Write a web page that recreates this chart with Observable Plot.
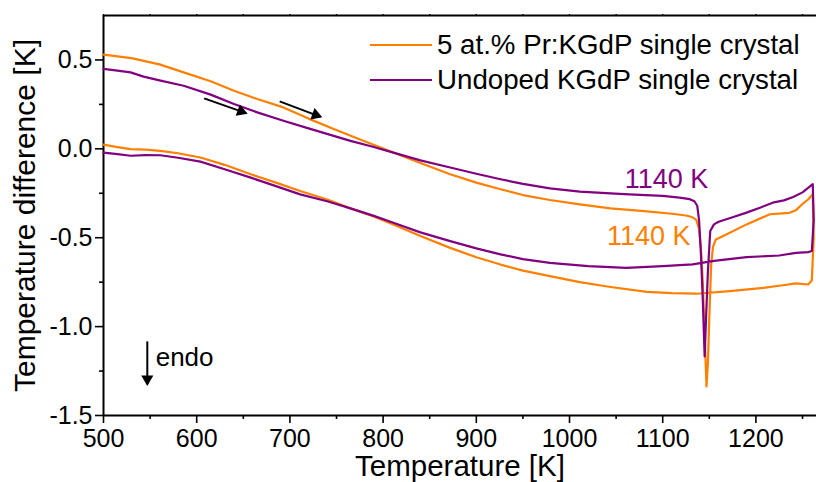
<!DOCTYPE html>
<html>
<head>
<meta charset="utf-8">
<script src="https://cdn.jsdelivr.net/npm/d3@7"></script>
<script src="https://cdn.jsdelivr.net/npm/@observablehq/plot@0.6"></script>
<style>
  html, body { margin: 0; padding: 0; background: #fff; }
  #wrap { position: relative; width: 816px; height: 482px; font-family: "Liberation Sans", Arial, sans-serif; }
  .leg { position: absolute; left: 370px; display: flex; align-items: center; font-size: 27.7px; color: #000; white-space: nowrap; }
  .leg .sw { width: 62px; height: 0; border-top: 2px solid; margin-right: 5px; }
</style>
</head>
<body>
<div id="wrap"></div>
<script>
// Series names and colours
const seriesNames = ["5 at.% Pr:KGdP single crystal", "Undoped KGdP single crystal"];
const seriesColors = ["#ff7f00", "#800080"];

// 5 at.% Pr:KGdP — heating then cooling loop (T in K, ΔT in K)
const prT = [500,530,560,586,615,640,665,693,720,747,776,811,840,872,900,926,950,979,1011,1044,1080,1110,1125,1132,1136,1139,1141,1143,1145,1147,1148.5,1150,1152,1154,1157,1165,1190,1215,1228,1236,1243,1250,1256,1261,1262,1260,1256,1243,1225,1208,1172,1136,1110,1083,1044,1011,979,950,926,900,872,840,811,790,765,740,711,685,658,630,604,580,561,545,529,515,500];
const prDT = [0.53,0.51,0.475,0.43,0.38,0.327,0.28,0.233,0.17,0.111,0.051,-0.021,-0.08,-0.143,-0.19,-0.227,-0.26,-0.288,-0.312,-0.335,-0.35,-0.365,-0.375,-0.385,-0.40,-0.45,-0.56,-0.75,-1.05,-1.337,-1.2,-0.95,-0.65,-0.55,-0.51,-0.49,-0.425,-0.368,-0.363,-0.36,-0.345,-0.31,-0.285,-0.256,-0.5,-0.74,-0.763,-0.757,-0.77,-0.782,-0.80,-0.815,-0.812,-0.805,-0.777,-0.75,-0.716,-0.685,-0.651,-0.61,-0.557,-0.49,-0.425,-0.38,-0.335,-0.285,-0.237,-0.19,-0.143,-0.09,-0.049,-0.025,-0.011,-0.005,-0.002,0.01,0.024];

// Undoped KGdP — heating then cooling loop
const unT = [500,515,529,543,560,586,615,640,665,693,720,747,765,790,811,840,872,900,926,950,979,1011,1044,1064,1100,1118,1129,1134,1137,1139,1141,1143,1145,1146.5,1148.5,1151,1155,1160,1175,1190,1205,1218,1230,1240,1250,1261,1262,1260,1256,1243,1225,1190,1155,1132,1100,1061,1020,979,950,926,900,872,840,811,790,765,740,711,685,658,630,604,580,561,545,529,515,500];
const unDT = [0.45,0.44,0.43,0.406,0.385,0.355,0.305,0.252,0.205,0.158,0.115,0.073,0.045,0.01,-0.021,-0.065,-0.105,-0.14,-0.171,-0.197,-0.222,-0.241,-0.25,-0.256,-0.265,-0.274,-0.283,-0.295,-0.32,-0.40,-0.594,-0.85,-1.168,-0.95,-0.688,-0.462,-0.425,-0.41,-0.385,-0.359,-0.33,-0.303,-0.29,-0.271,-0.245,-0.199,-0.4,-0.575,-0.581,-0.585,-0.6,-0.609,-0.63,-0.65,-0.66,-0.67,-0.66,-0.641,-0.62,-0.594,-0.56,-0.519,-0.47,-0.416,-0.377,-0.335,-0.295,-0.256,-0.21,-0.162,-0.115,-0.072,-0.05,-0.036,-0.035,-0.039,-0.03,-0.021];

// Axes
const xDomain = [500, 1265];
const yDomain = [-1.5, 0.75];
const xMajor = [500,600,700,800,900,1000,1100,1200];
const xMinor = [550,650,750,850,950,1050,1150,1250];
const yMajor = [-1.5,-1.0,-0.5,0.0,0.5];
const yMinor = [-1.25,-0.75,-0.25,0.25];
const xLabel = "Temperature [K]";
const yLabel = "Temperature difference [K]";

// Annotations
const peakLabels = [
  {x: 1104, y: -0.169, text: "1140 K", color: seriesColors[1]},
  {x: 1085, y: -0.491, text: "1140 K", color: seriesColors[0]}
];
const dirArrows = [
  {x1: 608, y1: 0.284, x2: 653, y2: 0.201, rot: 110},
  {x1: 689, y1: 0.267, x2: 733, y2: 0.180, rot: 110},
  {x1: 547, y1: -1.083, x2: 547, y2: -1.324, rot: 180}
];
const endoLabel = [{x: 556, y: -1.177, text: "endo"}];

const rows = [];
prT.forEach((t, i) => rows.push({series: seriesNames[0], T: t, dT: prDT[i]}));
unT.forEach((t, i) => rows.push({series: seriesNames[1], T: t, dT: unDT[i]}));

// arrow heads placed slightly back from tip
const heads = dirArrows.map(a => ({x: a.x2 - 0.12*(a.x2 - a.x1), y: a.y2 - 0.12*(a.y2 - a.y1), rot: a.rot}));

const chart = Plot.plot({
  width: 816,
  height: 482,
  marginLeft: 103,
  marginRight: 0,
  marginTop: 15,
  marginBottom: 67,
  style: {fontFamily: "Liberation Sans, Arial, sans-serif", background: "#fff", color: "#000"},
  x: {domain: xDomain, axis: null},
  y: {domain: yDomain, axis: null},
  color: {domain: seriesNames, range: seriesColors},
  marks: [
    Plot.axisX({ticks: xMajor, tickSize: 8, tickPadding: 6, fontSize: 25, strokeWidth: 1.6, tickFormat: d => String(d), label: null}),
    Plot.axisX({ticks: xMinor, tickSize: 4, strokeWidth: 1.6, tickFormat: () => "", label: null}),
    Plot.axisX({anchor: "top", ticks: xMajor.concat(xMinor), tickSize: 2, strokeWidth: 1.4, tickFormat: () => "", label: null}),
    Plot.axisY({ticks: yMajor, tickSize: 8, tickPadding: 3, fontSize: 25, strokeWidth: 1.6, tickFormat: d => d.toFixed(1), label: null}),
    Plot.axisY({ticks: yMinor, tickSize: 4, strokeWidth: 1.6, tickFormat: () => "", label: null}),
    Plot.ruleY([yDomain[0]], {strokeWidth: 2}),
    Plot.ruleY([yDomain[1]], {strokeWidth: 2}),
    Plot.ruleX([xDomain[0]], {strokeWidth: 2}),
    Plot.line(rows, {x: "T", y: "dT", z: "series", stroke: "series", strokeWidth: 2.2, curve: "linear"}),
    Plot.link(dirArrows, {x1: "x1", y1: "y1", x2: "x2", y2: "y2", stroke: "#000", strokeWidth: 2}),
    Plot.dot(heads, {x: "x", y: "y", symbol: "triangle", r: 4.5, fill: "#000", stroke: null, rotate: "rot"}),
    Plot.text(peakLabels, {x: "x", y: "y", text: "text", fill: "color", fontSize: 27}),
    Plot.text(endoLabel, {x: "x", y: "y", text: "text", textAnchor: "start", fill: "#000", fontSize: 26}),
    Plot.text([xLabel], {text: d => d, frameAnchor: "bottom", textAnchor: "middle", lineAnchor: "middle", dy: 51, fontSize: 29.5, fill: "#000"}),
    Plot.text([yLabel], {text: d => d, frameAnchor: "left", textAnchor: "middle", lineAnchor: "middle", rotate: -90, dx: -78, fontSize: 30, fill: "#000"})
  ]
});

const wrap = document.getElementById("wrap");
wrap.appendChild(chart);
const legTops = [45, 80];
seriesNames.forEach((name, i) => {
  const row = document.createElement("div");
  row.className = "leg";
  row.style.top = (legTops[i] - 15) + "px";
  row.style.height = "30px";
  const sw = document.createElement("span");
  sw.className = "sw";
  sw.style.borderTopColor = seriesColors[i];
  const tx = document.createElement("span");
  tx.textContent = name;
  row.appendChild(sw);
  row.appendChild(tx);
  wrap.appendChild(row);
});
</script>
</body>
</html>
